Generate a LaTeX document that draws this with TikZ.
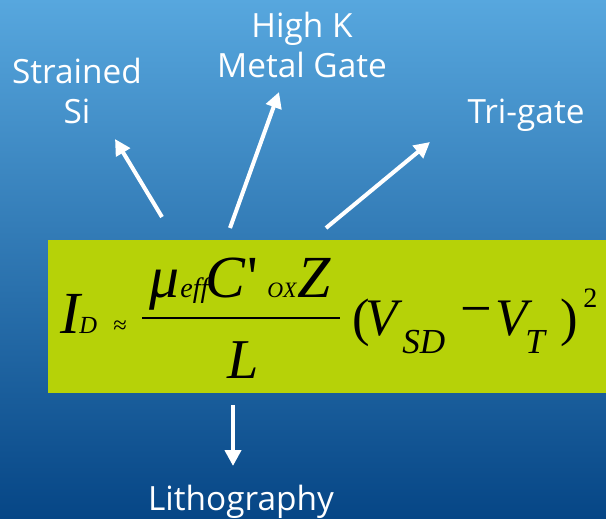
\documentclass[tikz,border=0pt]{standalone}
\usepackage{fontspec}
\usepackage{tikz}
\usetikzlibrary{arrows.meta,positioning}
\newfontfamily\labelfont{Open Sans}
\newfontfamily\eqfont{Liberation Serif}
\newcommand{\eqsize}[1]{\eqfont\itshape\fontsize{#1}{#1}\selectfont}
\newcommand{\equpsize}[1]{\eqfont\fontsize{#1}{#1}\selectfont}
\definecolor{skytop}{HTML}{57A7DE}
\definecolor{skymid}{HTML}{2C7DBE}
\definecolor{skybottom}{HTML}{064686}
\definecolor{limebox}{HTML}{B6D208}
\tikzset{
  featurelabel/.style={text=white, font=\labelfont\fontsize{19}{22.7}\selectfont, align=center, anchor=base, inner sep=0pt},
  featurearrow/.style={draw=white, line width=2.3pt, -{Triangle[length=9pt,width=9pt]}},
  eqpart/.style={inner sep=0pt, anchor=base west, text=black},
}

\begin{document}
\begin{tikzpicture}[x=0.02cm,y=-0.02cm]
\useasboundingbox (0,0) rectangle (606,518);
\shade[top color=skytop, middle color=skymid, bottom color=skybottom] (0,0) rectangle (606,518);
\fill[limebox] (48,240) rectangle (606,393);

% the drain current formula
\node[eqpart, font=\eqsize{34}] (id) at (60,333) {I};
\node[eqpart, font=\eqsize{14}] (idsub) at (79,333) {D};
\node[eqpart, font=\equpsize{14}] (approx) at (113,333) {≈};
\node[eqpart, font=\eqsize{34}] (mu) at (149,297) {μ};
\node[eqpart, font=\eqsize{16}] (eff) at (180,297) {eff};
\node[eqpart, font=\eqsize{34}] (cox) at (205,297) {C};
\node[eqpart, font=\equpsize{34}] (prime) at (247,297) {'};
\node[eqpart, font=\eqsize{12.5}] (oxsub) at (267,297) {OX};
\node[eqpart, font=\eqsize{34}] (z) at (297,297) {Z};
\coordinate (bar west) at (142,318);
\coordinate (bar east) at (340,318);
\draw[line width=1.7pt] (bar west) -- (bar east);
\node[eqpart, font=\eqsize{32}] (l) at (227,378) {L};
\node[eqpart, font=\equpsize{30}] (lparen) at (352,335) {(};
\node[eqpart, font=\eqsize{30}] (vsd) at (365,335) {V};
\node[eqpart, font=\eqsize{20}] (sdsub) at (402,353) {SD};
\node[inner sep=0pt, font=\equpsize{32}] (minus) at (476,317) {−};
\node[eqpart, font=\eqsize{30}] (vt) at (495,335) {V};
\node[eqpart, font=\eqsize{20}] (tsub) at (525,353) {T};
\node[eqpart, font=\equpsize{30}] (rparen) at (560,335) {)};
\node[eqpart, font=\equpsize{16}] (square) at (583,307) {2};

% what pushes the formula
\node[featurelabel] (strained) at (77,123) {Strained\\Si};
\node[featurelabel] (highk) at (302,77) {High K\\Metal Gate};
\node[featurelabel] (trigate) at (526,123) {Tri-gate};
\node[featurelabel] (litho) at (241,510) {Lithography};

\coordinate (si tail) at (162,217);
\coordinate (si tip) at (115,139);
\coordinate (hk tail) at (230,228);
\coordinate (hk tip) at (279,92);
\coordinate (tg tail) at (326,228);
\coordinate (tg tip) at (430,142);
\coordinate (li tail) at (233,405);
\coordinate (li tip) at (233,466);
\draw[featurearrow] (si tail) -- (si tip);
\draw[featurearrow] (hk tail) -- (hk tip);
\draw[featurearrow] (tg tail) -- (tg tip);
\draw[featurearrow] (li tail) -- (li tip);
\end{tikzpicture}
\end{document}
